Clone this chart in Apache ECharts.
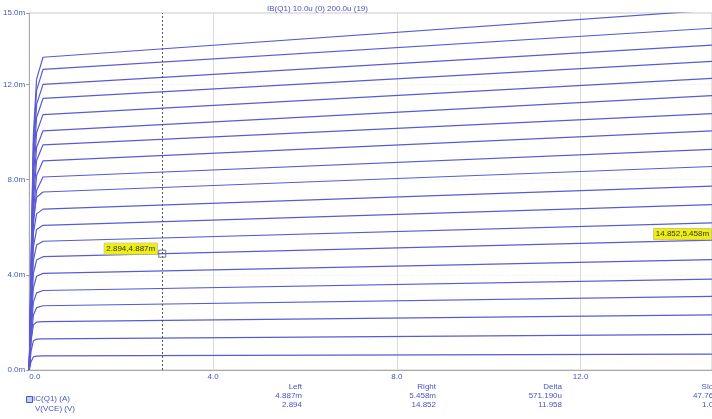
<!DOCTYPE html>
<html>
<head>
<meta charset="utf-8">
<script src="https://cdn.jsdelivr.net/npm/echarts@6/dist/echarts.min.js"></script>
<style>
html,body{margin:0;padding:0;background:#fff;}
#chart{width:712px;height:419px;}
</style>
</head>
<body>
<div id="chart"></div>
<script>
// Vce sample points (V) shared by every trace
const vce = [0, 0.04, 0.09, 0.16, 0.3, 14.86];
// Collector current traces (mA), one per base-current step
const trace01 = [0, 0.35, 0.55, 0.58, 0.59, 0.67];
const trace02 = [0, 0.79, 1.22, 1.30, 1.31, 1.50];
const trace03 = [0, 1.22, 1.89, 2.01, 2.03, 2.32];
const trace04 = [0, 1.22, 2.30, 2.62, 2.70, 3.09];
const trace05 = [0, 1.50, 2.84, 3.24, 3.34, 3.82];
const trace06 = [0, 1.83, 3.45, 3.94, 4.06, 4.64];
const trace07 = [0, 2.14, 4.05, 4.62, 4.76, 5.458];
const trace08 = [0, 2.43, 4.60, 5.25, 5.41, 6.18];
const trace09 = [0, 2.74, 5.17, 5.90, 6.08, 6.95];
const trace10 = [0, 3.04, 5.75, 6.56, 6.76, 7.73];
const trace11 = [0, 3.37, 6.36, 7.26, 7.48, 8.55];
const trace12 = [0, 2.84, 6.08, 7.54, 8.11, 9.27];
const trace13 = [0, 3.08, 6.59, 8.17, 8.79, 10.05];
const trace14 = [0, 3.31, 7.10, 8.80, 9.46, 10.77];
const trace15 = [0, 3.52, 7.54, 9.35, 10.05, 11.53];
const trace16 = [0, 3.76, 8.05, 9.98, 10.73, 12.25];
const trace17 = [0, 3.99, 8.56, 10.61, 11.41, 12.97];
const trace18 = [0, 4.20, 9.00, 11.16, 12.00, 13.65];
const trace19 = [0, 4.42, 9.47, 11.75, 12.63, 14.36];
const trace20 = [0, 4.60, 9.86, 12.22, 13.14, 15.12];
// Cursors
const cursorLeft = [2.894, 4.887];
const cursorRight = [14.852, 5.458];
const cursorHeads = ['Left', 'Right', 'Delta', 'Slope'];
const cursorYTexts = ['4.887m', '5.458m', '571.190u', '47.766u'];
const cursorXTexts = ['2.894', '14.852', '11.958', '1.000'];
// Axis settings
const xTickStep = 4;
const yTickStep = 4;
const xMax = 14.86;
const yMax = 15;

const traces = [trace01,trace02,trace03,trace04,trace05,trace06,trace07,trace08,trace09,trace10,
                trace11,trace12,trace13,trace14,trace15,trace16,trace17,trace18,trace19,trace20];

const lineColor = '#5a5ad4';
const textBlue = '#4a55c0';
const fontFam = '"Liberation Sans", Arial, sans-serif';

const series = traces.map(function (tr, idx) {
  const s = {
    type: 'line',
    data: vce.map(function (v, k) { return [v, tr[k]]; }),
    showSymbol: false,
    smooth: false,
    lineStyle: { color: lineColor, width: 1.2 },
    emphasis: { disabled: true },
    animation: false,
    z: 3
  };
  if (idx === 6) {
    s.markLine = {
      silent: true,
      symbol: ['none', 'none'],
      label: { show: false },
      lineStyle: { color: '#555', type: [2, 2], width: 1 },
      data: [{ xAxis: cursorLeft[0] }],
      animation: false
    };
    s.markPoint = {
      silent: true,
      animation: false,
      data: [
        {
          coord: cursorLeft, symbol: 'rect', symbolSize: 7,
          itemStyle: { color: 'rgba(0,0,0,0)', borderColor: '#777', borderWidth: 1 },
          label: {
            show: true, position: 'left', distance: 1, offset: [0, -5],
            formatter: cursorLeft[0].toFixed(3) + ',' + cursorLeft[1].toFixed(3) + 'm',
            backgroundColor: '#eeee10', color: '#333', fontSize: 8, fontFamily: fontFam,
            padding: [2, 2, 1, 2], borderColor: '#aaa', borderWidth: 0.5
          }
        },
        {
          coord: cursorRight, symbol: 'rect', symbolSize: 1,
          itemStyle: { color: 'rgba(0,0,0,0)' },
          label: {
            show: true, position: 'left', distance: 0, offset: [0, -6],
            formatter: cursorRight[0].toFixed(3) + ',' + cursorRight[1].toFixed(3) + 'm',
            backgroundColor: '#eeee10', color: '#333', fontSize: 8, fontFamily: fontFam,
            padding: [2, 2, 1, 2], borderColor: '#aaa', borderWidth: 0.5
          }
        }
      ]
    };
  }
  return s;
});

const chart = echarts.init(document.getElementById('chart'), null, { renderer: 'canvas' });

const colX = [302, 436, 562, 722];
const tableTexts = [];
cursorHeads.forEach(function (h, i) {
  [h, cursorYTexts[i], cursorXTexts[i]].forEach(function (t, r) {
    tableTexts.push({ type: 'text', x: colX[i], y: 383 + r * 9,
      style: { text: t, fill: textBlue, fontSize: 8, align: 'right', fontFamily: fontFam } });
  });
});

chart.setOption({
  animation: false,
  backgroundColor: '#ffffff',
  textStyle: { fontFamily: fontFam },
  title: {
    text: 'IB(Q1) 10.0u (0) 200.0u (19)',
    left: 262, top: 0,
    textStyle: { fontSize: 8, fontWeight: 'normal', color: textBlue, fontFamily: fontFam }
  },
  grid: {
    left: 27, right: 0, top: 13, bottom: 49,
    show: true, borderColor: '#c8c8c8', borderWidth: 1, backgroundColor: '#ffffff'
  },
  xAxis: {
    type: 'value', min: 0, max: xMax, interval: xTickStep,
    axisLine: { show: true, lineStyle: { color: '#aaaaaa' } },
    axisTick: { show: false },
    splitLine: { show: true, lineStyle: { color: '#dadada', width: 1 } },
    axisLabel: {
      color: textBlue, fontSize: 8, margin: 3, showMaxLabel: false,
      alignMinLabel: 'left',
      formatter: function (v) { return v.toFixed(1); }
    }
  },
  yAxis: {
    type: 'value', min: 0, max: yMax, interval: yTickStep,
    axisLine: { show: true, lineStyle: { color: '#aaaaaa' } },
    axisTick: { show: true, length: 3, lineStyle: { color: '#999' } },
    splitLine: { show: true, lineStyle: { color: '#ebebd8', type: [1, 2], width: 1 } },
    axisLabel: {
      color: textBlue, fontSize: 8, margin: 4,
      formatter: function (v) { return v.toFixed(1) + 'm'; }
    }
  },
  series: series,
  graphic: [
    { type: 'rect', left: 26, top: 396, shape: { width: 6, height: 6 },
      style: { fill: '#c8ccf0', stroke: '#4a55c0', lineWidth: 1 } },
    { type: 'text', left: 33, top: 395,
      style: { text: 'IC(Q1) (A)', fill: textBlue, fontSize: 8, fontFamily: fontFam } },
    { type: 'text', left: 35, top: 405,
      style: { text: 'V(VCE) (V)', fill: textBlue, fontSize: 8, fontFamily: fontFam } }
  ].concat(tableTexts)
});
</script>
</body>
</html>
